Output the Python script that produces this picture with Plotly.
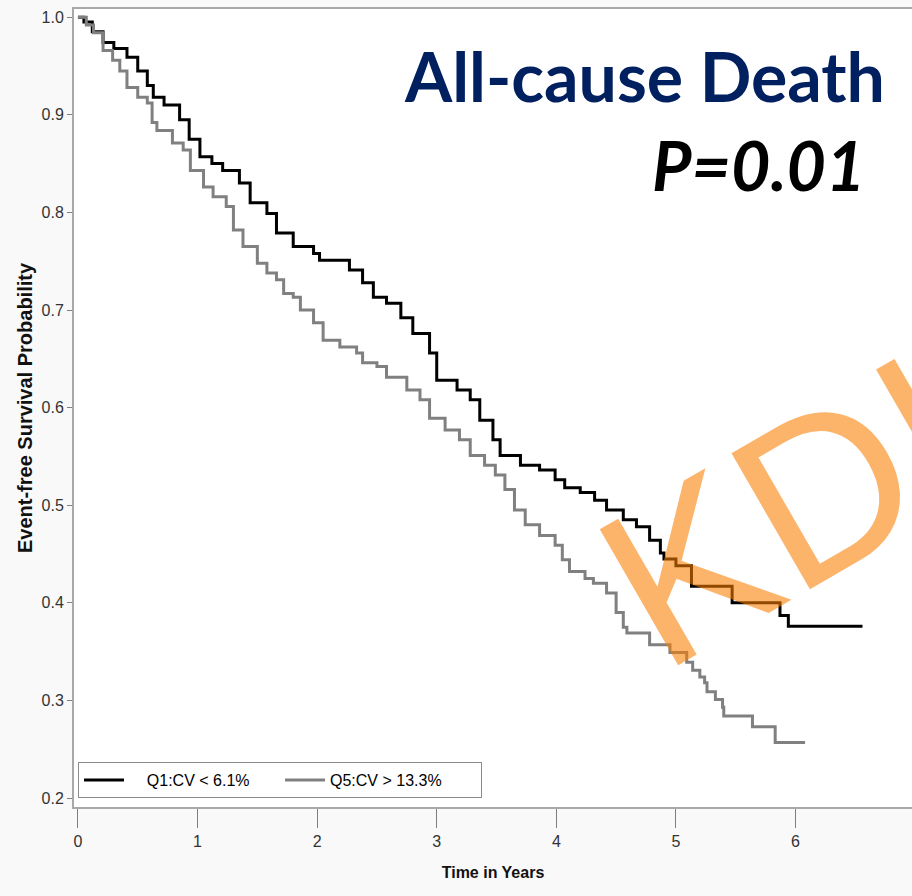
import plotly.graph_objects as go

# ---- data (Kaplan-Meier step curves) ----
q1_time = [0.0, 0.05, 0.12, 0.21, 0.30, 0.41, 0.50, 0.58, 0.63, 0.72, 0.85, 0.93, 1.02, 1.12,
           1.21, 1.35, 1.44, 1.58, 1.66, 1.80, 1.97, 2.02, 2.27, 2.38, 2.47, 2.58, 2.70, 2.80,
           2.94, 3.00, 3.17, 3.28, 3.36, 3.47, 3.53, 3.70, 3.86, 3.99, 4.07, 4.20, 4.32, 4.42,
           4.56, 4.67, 4.78, 4.87, 4.90, 5.00, 5.13, 5.47, 5.87, 5.94, 6.56]
q1_surv = [1.0, 0.995, 0.985, 0.974, 0.968, 0.959, 0.945, 0.930, 0.918, 0.910, 0.895, 0.875,
           0.857, 0.850, 0.843, 0.830, 0.810, 0.799, 0.779, 0.765, 0.758, 0.751, 0.741, 0.728,
           0.713, 0.707, 0.692, 0.676, 0.656, 0.628, 0.618, 0.608, 0.587, 0.567, 0.551, 0.541,
           0.536, 0.526, 0.518, 0.513, 0.505, 0.495, 0.485, 0.478, 0.464, 0.451, 0.445, 0.438,
           0.417, 0.400, 0.387, 0.376, 0.376]

q5_time = [0.0, 0.07, 0.13, 0.21, 0.29, 0.35, 0.41, 0.50, 0.58, 0.62, 0.66, 0.79, 0.88, 0.94,
           1.05, 1.13, 1.24, 1.30, 1.38, 1.50, 1.58, 1.66, 1.72, 1.80, 1.86, 1.97, 2.05, 2.19,
           2.33, 2.38, 2.50, 2.58, 2.75, 2.86, 2.94, 3.07, 3.19, 3.28, 3.40, 3.49, 3.57, 3.65,
           3.74, 3.86, 3.99, 4.05, 4.11, 4.24, 4.31, 4.42, 4.50, 4.56, 4.59, 4.78, 4.95, 5.09,
           5.14, 5.20, 5.24, 5.26, 5.33, 5.39, 5.40, 5.64, 5.83, 6.08]
q5_surv = [1.0, 0.992, 0.984, 0.966, 0.956, 0.945, 0.928, 0.918, 0.912, 0.892, 0.884, 0.871,
           0.864, 0.843, 0.826, 0.816, 0.806, 0.782, 0.765, 0.748, 0.738, 0.731, 0.717, 0.713,
           0.700, 0.687, 0.669, 0.662, 0.656, 0.646, 0.642, 0.631, 0.618, 0.608, 0.589, 0.577,
           0.567, 0.551, 0.541, 0.531, 0.516, 0.495, 0.480, 0.469, 0.459, 0.444, 0.432, 0.425,
           0.420, 0.410, 0.390, 0.375, 0.369, 0.357, 0.349, 0.339, 0.331, 0.324, 0.318, 0.309,
           0.301, 0.293, 0.284, 0.273, 0.257, 0.257]

series_names = ["Q1:CV < 6.1%", "Q5:CV > 13.3%"]
x_ticks = [0, 1, 2, 3, 4, 5, 6, 7]
y_ticks = [0.2, 0.3, 0.4, 0.5, 0.6, 0.7, 0.8, 0.9, 1.0]

title_text = "All-cause Death"
p_text = "<i>P</i>=0.01"
watermark = "KDI"

NARROW = "Liberation Sans Narrow, Arial Narrow, Liberation Sans, Arial, sans-serif"
PAD = "\u00a0\u00a0\u00a0\u00a0"

fig = go.Figure()
fig.add_trace(go.Scatter(x=q1_time, y=q1_surv, mode="lines", line_shape="hv",
                         line=dict(color="#000000", width=3), name=PAD + series_names[0]))
fig.add_trace(go.Scatter(x=q5_time, y=q5_surv, mode="lines", line_shape="hv",
                         line=dict(color="#808080", width=3), name=series_names[1]))

W, H = 912, 896
ML, MR, MT, MB = 74, 0, 9, 89
pw, ph = W - ML - MR, H - MT - MB

def px_x(p):
    return (p - ML) / pw

def px_y(p):
    return (H - MB - p) / ph

fig.update_layout(
    width=W, height=H,
    margin=dict(l=ML, r=MR, t=MT, b=MB, pad=0),
    paper_bgcolor="#f9f9f9",
    plot_bgcolor="#ffffff",
    showlegend=True,
    legend=dict(orientation="h", x=px_x(78), y=px_y(798), xanchor="left", yanchor="bottom",
                bgcolor="#ffffff", bordercolor="#8a8a8a", borderwidth=1,
                font=dict(family=NARROW, size=16, color="#000000"),
                entrywidth=146, itemwidth=40),
    xaxis=dict(range=[-0.033, 6.974], tickvals=x_ticks, ticks="outside", ticklen=19,
               tickcolor="#808080", tickwidth=1, showgrid=False, zeroline=False,
               showline=True, linecolor="#a8a8a8", linewidth=2, mirror=True,
               tickfont=dict(family=NARROW, size=16, color="#333333"),
               title=dict(text="<b>Time in Years</b>", standoff=18,
                          font=dict(family=NARROW, size=16, color="#111111"))),
    yaxis=dict(range=[0.1908, 1.0084], tickvals=y_ticks, tickformat=".1f", ticks="outside",
               ticklen=5, tickcolor="#808080", tickwidth=1, showgrid=False, zeroline=False,
               showline=True, linecolor="#a8a8a8", linewidth=2,
               tickfont=dict(family=NARROW, size=16, color="#333333"),
               title=dict(text="<b>Event-free Survival Probability</b>", standoff=4,
                          font=dict(family=NARROW, size=20, color="#111111"))),
)

fig.add_annotation(text=title_text, xref="paper", yref="paper", x=px_x(887), y=px_y(75),
                   xanchor="right", yanchor="middle", showarrow=False,
                   font=dict(family="Lato, Open Sans, sans-serif", size=68, weight="bold",
                             color="#002060"))
fig.add_annotation(text=p_text, xref="paper", yref="paper", x=px_x(867), y=px_y(164),
                   xanchor="right", yanchor="middle", showarrow=False,
                   font=dict(family="Lato, Open Sans, sans-serif", size=68, weight="bold",
                             style="italic", color="#000000"))
fig.add_annotation(text=watermark, xref="paper", yref="paper", x=px_x(787), y=px_y(511),
                   xanchor="center", yanchor="middle", showarrow=False, textangle=-30,
                   font=dict(family="Liberation Sans, Arial, sans-serif", size=228,
                             color="rgba(250,125,0,0.58)"))

fig.write_html("out.html")
